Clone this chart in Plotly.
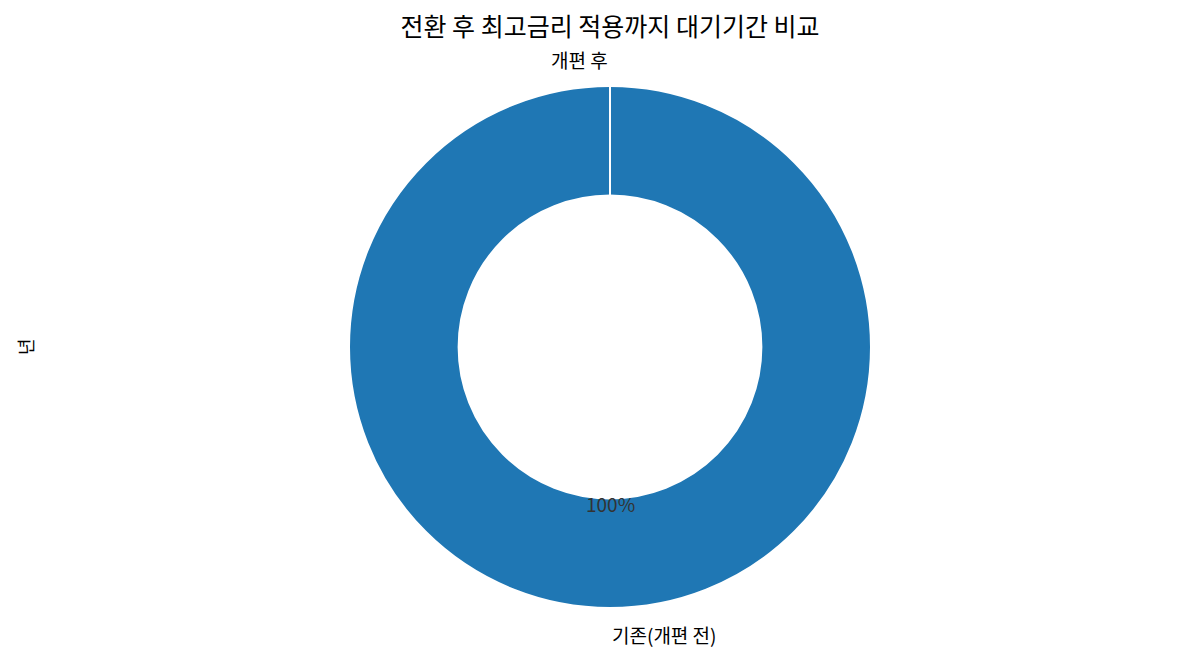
import math
import plotly.graph_objects as go

# 데이터
labels = ['기존(개편 전)', '개편 후']
values = [1, 0]
colors = ['#1f77b4', '#ff7f0e']
title = '전환 후 최고금리 적용까지 대기기간 비교'
y_label = '년'

W, H = 1185, 660
ml, mr, mt, mb = 92, 73, 78, 60
pw, ph = W - ml - mr, H - mt - mb
R = min(pw, ph) / 2  # pie radius in px
hole = 0.58
font = 'Noto Sans CJK KR'

fig = go.Figure(go.Pie(
    labels=labels,
    values=values,
    hole=hole,
    sort=False,
    direction='clockwise',
    rotation=0,
    textinfo='none',
    hoverinfo='label+percent',
    marker=dict(colors=colors, line=dict(color='white', width=2)),
    showlegend=False,
))

# 라벨 / 퍼센트 (matplotlib 방식: 시계방향, 시작각 90도)
total = sum(values)
theta1 = 0.25
for lab, v in zip(labels, values):
    frac = v / total
    theta2 = theta1 - frac
    thetam = 2 * math.pi * 0.5 * (theta1 + theta2)
    cx, cy = math.cos(thetam), math.sin(thetam)
    fig.add_annotation(
        x=0.5 + 1.1 * R * cx / pw, y=0.5 + 1.1 * R * cy / ph,
        xref='paper', yref='paper', text=lab, showarrow=False,
        xanchor='left' if cx > 0 else 'right', yanchor='middle',
        font=dict(size=19, color='black', family=font),
    )
    if frac > 0:
        fig.add_annotation(
            x=0.5 + 0.6 * R * cx / pw, y=0.5 + 0.6 * R * cy / ph,
            xref='paper', yref='paper', text='%d%%' % round(frac * 100),
            showarrow=False, xanchor='center', yanchor='middle',
            font=dict(size=19, color='#333333', family=font),
        )
    theta1 = theta2

# 시작 경계선 (흰색)
fig.add_shape(type='line', xref='paper', yref='paper',
              x0=0.5, x1=0.5, y0=0.5 + hole * R / ph, y1=0.5 + R / ph,
              line=dict(color='white', width=2))

# y축 라벨
fig.add_annotation(x=(2 - ml) / pw, y=0.5, xref='paper', yref='paper', text=y_label,
                   showarrow=False, textangle=-90,
                   font=dict(size=18, color='black', family=font))

fig.update_layout(
    width=W, height=H,
    margin=dict(l=ml, r=mr, t=mt, b=mb),
    paper_bgcolor='white', plot_bgcolor='white',
    title=dict(text=title, x=(ml + pw / 2) / W, xanchor='center', y=1 - 19 / H, yanchor='middle',
               font=dict(size=25, color='black', family=font)),
    font=dict(family=font),
)

fig.write_html('out.html')
